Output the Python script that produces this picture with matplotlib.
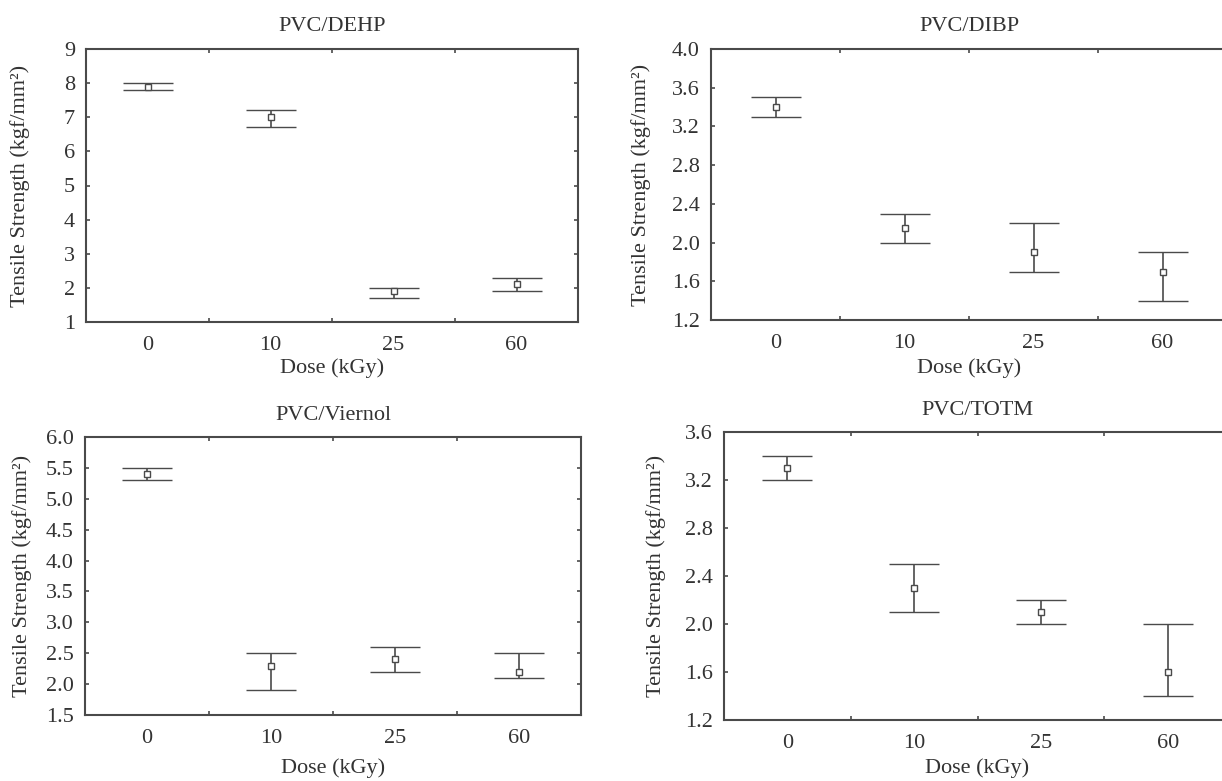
import matplotlib
matplotlib.use("Agg")
import matplotlib.pyplot as plt
from matplotlib.ticker import FixedLocator, FormatStrFormatter

plt.rcParams['font.family'] = ['Liberation Serif', 'DejaVu Serif']

doses = ["0", "10", "25", "60"]

titles = ["PVC/DEHP", "PVC/DIBP", "PVC/Viernol", "PVC/TOTM"]

dehp_mean = [7.9, 7.0, 1.9, 2.1]
dehp_low = [7.8, 6.7, 1.7, 1.9]
dehp_high = [8.0, 7.2, 2.0, 2.3]

dibp_mean = [3.4, 2.15, 1.9, 1.7]
dibp_low = [3.3, 2.0, 1.7, 1.4]
dibp_high = [3.5, 2.3, 2.2, 1.9]

viernol_mean = [5.4, 2.3, 2.4, 2.2]
viernol_low = [5.3, 1.9, 2.2, 2.1]
viernol_high = [5.5, 2.5, 2.6, 2.5]

totm_mean = [3.3, 2.3, 2.1, 1.6]
totm_low = [3.2, 2.1, 2.0, 1.4]
totm_high = [3.4, 2.5, 2.2, 2.0]

dehp_yticks = [1, 2, 3, 4, 5, 6, 7, 8, 9]
dibp_yticks = [1.2, 1.6, 2.0, 2.4, 2.8, 3.2, 3.6, 4.0]
viernol_yticks = [1.5, 2.0, 2.5, 3.0, 3.5, 4.0, 4.5, 5.0, 5.5, 6.0]
totm_yticks = [1.2, 1.6, 2.0, 2.4, 2.8, 3.2, 3.6]

ylabel = "Tensile Strength (kgf/mm²)"
xlabel = "Dose (kGy)"

W, H = 1222, 781
fig = plt.figure(figsize=(W / 100, H / 100), dpi=100)

def add_axes(left, right, top, bottom):
    return fig.add_axes([left / W, (H - bottom) / H, (right - left) / W, (bottom - top) / H])

# pixel boxes (left, right, top, bottom)
boxes = [(86, 578, 49, 322), (711, 1227, 49, 320), (85, 581, 437, 715), (724, 1231, 432, 720)]
series = [
    (dehp_mean, dehp_low, dehp_high, dehp_yticks, "%d"),
    (dibp_mean, dibp_low, dibp_high, dibp_yticks, "%.1f"),
    (viernol_mean, viernol_low, viernol_high, viernol_yticks, "%.1f"),
    (totm_mean, totm_low, totm_high, totm_yticks, "%.1f"),
]
ylabel_x = [20, 641, 22, 656]
xlabel_y = [368, 368, 768, 768]
title_y = [22, 22, 411, 406]

col = "#4a4a4a"
tcol = "#333333"
fs = 16

for i, (box, (m, lo, hi, yt, fmt)) in enumerate(zip(boxes, series)):
    l, r, t, b = box
    ax = add_axes(l, r, t, b)
    x = list(range(len(doses)))
    yerr = [[mm - ll for mm, ll in zip(m, lo)], [hh - mm for mm, hh in zip(m, hi)]]
    ax.errorbar(x, m, yerr=yerr, fmt='s', mfc='white', mec=col, ms=5, mew=1.0,
                ecolor=col, elinewidth=1.2, capsize=18, capthick=2.2, color=col)
    ax.set_xlim(-0.5, len(doses) - 0.5)
    ax.set_ylim(yt[0], yt[-1])
    ax.yaxis.set_major_locator(FixedLocator(yt))
    ax.yaxis.set_major_formatter(FormatStrFormatter(fmt))
    ax.set_xticks(x)
    ax.set_xticklabels(doses)
    ax.xaxis.set_minor_locator(FixedLocator([0.5, 1.5, 2.5]))
    ax.tick_params(axis='x', which='major', length=0, pad=10, labelsize=fs, colors=tcol)
    ax.tick_params(axis='x', which='minor', direction='in', length=3, width=1.2,
                   top=True, bottom=True, color=col)
    ax.tick_params(axis='y', which='major', direction='in', length=3, width=1.2,
                   left=True, right=True, pad=8, labelsize=fs, labelcolor=tcol, color=col)
    for s in ax.spines.values():
        s.set_color(col)
        s.set_linewidth(1.5)
    ax.set_ylabel(ylabel, fontsize=fs, color=tcol)
    ax.yaxis.set_label_coords((ylabel_x[i] + 10 - l) / (r - l), 0.5)
    ax.set_xlabel(xlabel, fontsize=fs, color=tcol)
    ax.xaxis.set_label_coords(0.5, -(xlabel_y[i] - 10 - b) / (b - t))
    ax.set_title(titles[i], fontsize=fs, color=tcol, pad=(t - title_y[i] - 9) * 0.72)

fig.savefig("out.png", dpi=100)
